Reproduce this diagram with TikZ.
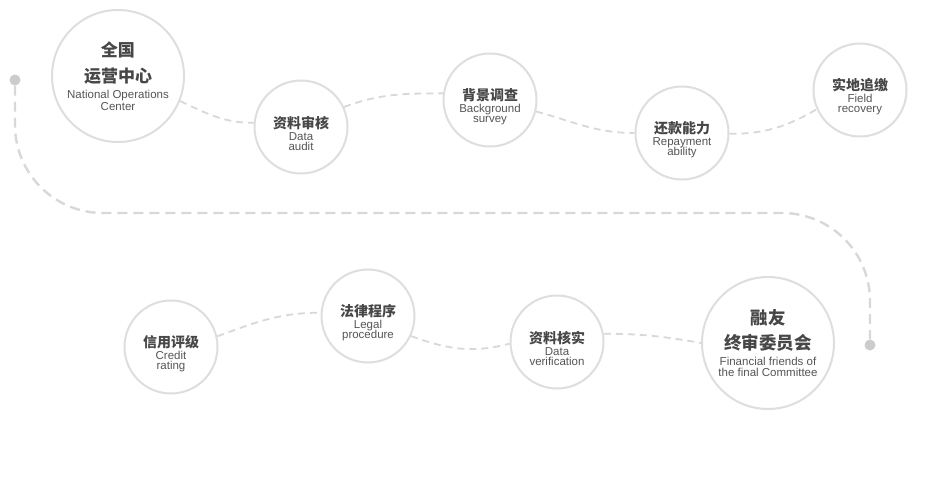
\documentclass[tikz,border=0pt]{standalone}
\usepackage{fontspec}
\setmainfont{Liberation Sans}
\newfontfamily\zh{Noto Sans CJK SC}
\usepackage{tikz}
\definecolor{ringgray}{HTML}{DEDEDE}
\definecolor{trailgray}{HTML}{D8D8D8}
\definecolor{dotgray}{HTML}{CCCCCC}
\definecolor{txtgray}{HTML}{555555}
\newcommand{\cn}[1]{{\zh\bfseries\color{black!72}#1}}
\setlength{\lineskiplimit}{-100pt}

\begin{document}
\begin{tikzpicture}[x=1pt, y=-1pt,
	ring/.style={circle, draw=ringgray, line width=2pt, fill=white,
		minimum size=93pt, inner sep=0pt},
	bigring/.style={ring, minimum size=132pt},
	steptext/.style={align=center, text=txtgray,
		font=\fontsize{11.5}{10}\selectfont},
	link/.style={draw=trailgray, line width=1.8pt, dash pattern=on 7pt off 5pt},
	trail/.style={draw=trailgray, line width=2.4pt, dash pattern=on 10pt off 6pt},
	dot/.style={circle, fill=dotgray, minimum size=11pt, inner sep=0pt}]
			\fill[white] (0, 0) rectangle (927, 493);
			\useasboundingbox (0, 0) rectangle (927, 493);

			% long trail from the first row to the second
			\node [dot] (start) at (15, 80) {};
			\node [dot] (end) at (870, 345) {};
			\coordinate (turn) at (870, 213);
			\draw [trail, rounded corners=88pt] (start) |- (turn) -- (end);

			% first row
			\node [bigring] (noc) at (118, 76) {};
			\node [steptext] (noc-t) at (noc.center)
			{\cn{\fontsize{17}{17}\selectfont 全国}\\[16pt]\cn{\fontsize{17}{17}\selectfont 运营中心}\\[6.5pt]National Operations\\[2pt]Center};

			\node [ring] (audit) at (301, 127) {};
			\node [steptext] (audit-t) at ([yshift=-6.5pt]audit.center)
			{\cn{\fontsize{14}{14}\selectfont 资料审核}\\[1.5pt]Data\\audit};

			\node [ring] (survey) at (490, 100) {};
			\node [steptext] (survey-t) at ([yshift=-6.5pt]survey.center)
			{\cn{\fontsize{14}{14}\selectfont 背景调查}\\[1.5pt]Background\\survey};

			\node [ring] (repay) at (682, 133) {};
			\node [steptext] (repay-t) at ([yshift=-6.5pt]repay.center)
			{\cn{\fontsize{14}{14}\selectfont 还款能力}\\[1.5pt]Repayment\\ability};

			\node [ring] (field) at (860, 90) {};
			\node [steptext] (field-t) at ([yshift=-6.5pt]field.center)
			{\cn{\fontsize{14}{14}\selectfont 实地追缴}\\[1.5pt]Field\\recovery};

			\draw [link] (noc.-22) to[out=-25, in=180] (audit.175);
			\draw [link] (audit.25) to[out=20, in=180] (survey.172);
			\draw [link] (survey.-14) to[out=-15, in=180] (repay.180);
			\draw [link] (repay.-1) to[out=0, in=210] (field.204);

			% second row
			\node [ring] (credit) at (171, 347) {};
			\node [steptext] (credit-t) at ([yshift=-6.5pt]credit.center)
			{\cn{\fontsize{14}{14}\selectfont 信用评级}\\[1.5pt]Credit\\rating};

			\node [ring] (legal) at (368, 316) {};
			\node [steptext] (legal-t) at ([yshift=-6.5pt]legal.center)
			{\cn{\fontsize{14}{14}\selectfont 法律程序}\\[1.5pt]Legal\\procedure};

			\node [ring] (verify) at (557, 342) {};
			\node [steptext] (verify-t) at ([yshift=-6.5pt]verify.center)
			{\cn{\fontsize{14}{14}\selectfont 资料核实}\\[1.5pt]Data\\verification};

			\node [bigring] (board) at (768, 343) {};
			\node [steptext] (board-t) at (board.center)
			{\cn{\fontsize{17.5}{17.5}\selectfont 融友}\\[15pt]\cn{\fontsize{17.5}{17.5}\selectfont 终审委员会}\\[6pt]Financial friends of\\[1pt]the final Committee};

			\draw [link] (credit.13) to[out=20, in=180] (legal.176);
			\draw [link] (legal.-25) to[out=-20, in=195] (verify.182);
			\draw [link] (verify.10) to[out=0, in=170] (board.180);
\end{tikzpicture}
\end{document}
